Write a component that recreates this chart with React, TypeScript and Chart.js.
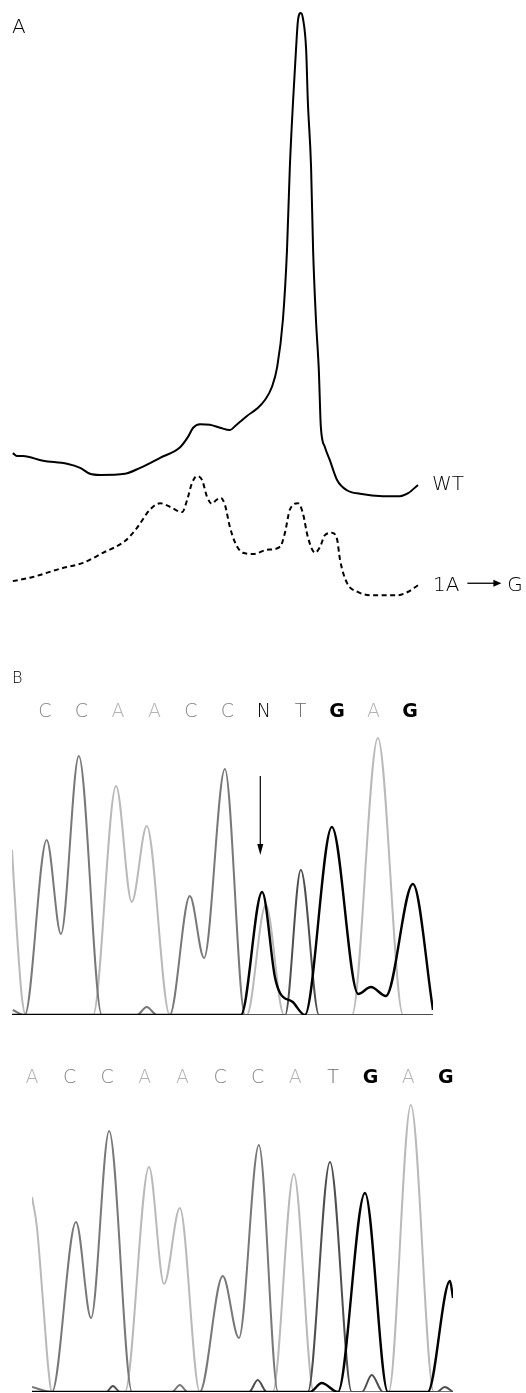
import React, { useEffect, useRef } from 'react';
import { Chart, registerables } from 'chart.js';

Chart.register(...registerables);

const FONT = "'DejaVu Sans', 'Noto Sans', sans-serif";

// ---------- Panel A: elution profiles (time in min, absorbance in %) ----------
const PANEL_A = 'A';
const SERIES_LABELS = ['WT', '1A → G'];

const WT_TIME = [0.02, 0.12, 0.27, 0.76, 1.35, 1.67, 1.91, 2.16, 2.77, 3.14, 3.63, 4.12, 4.31, 4.44, 4.61, 4.85, 5.10, 5.34, 5.47, 5.59, 5.76, 6.00, 6.20, 6.37, 6.50, 6.64, 6.74, 6.81, 6.89, 6.96, 7.01, 7.08, 7.13, 7.21, 7.25, 7.33, 7.38, 7.45, 7.52, 7.57, 7.67, 7.79, 7.97, 8.21, 8.53, 9.09, 9.51, 9.71, 9.95];
const WT_ABS = [24.9, 24.4, 24.4, 23.6, 23.1, 22.4, 21.4, 21.2, 21.4, 22.4, 24.1, 25.9, 27.6, 29.2, 29.8, 29.7, 29.2, 28.8, 29.5, 30.2, 31.2, 32.4, 33.9, 36.1, 39.5, 47.5, 59.3, 73.4, 84.7, 93.2, 98.3, 99.5, 98.6, 93.2, 84.7, 73.4, 59.3, 47.5, 39.0, 29.3, 25.9, 23.7, 20.3, 18.6, 18.0, 17.6, 17.6, 18.1, 19.5];

const MUT_TIME = [0.02, 0.51, 1.18, 1.74, 2.23, 2.77, 3.06, 3.38, 3.63, 3.87, 4.17, 4.29, 4.41, 4.53, 4.66, 4.78, 4.90, 5.00, 5.12, 5.22, 5.34, 5.47, 5.66, 5.91, 6.25, 6.57, 6.69, 6.81, 7.01, 7.13, 7.25, 7.43, 7.55, 7.67, 7.84, 7.97, 8.04, 8.21, 8.46, 8.85, 9.44, 9.71, 9.95];
const MUT_ABS = [3.2, 3.9, 5.3, 6.3, 8.0, 10.0, 12.2, 15.3, 16.4, 15.8, 14.9, 16.9, 19.8, 21.0, 20.3, 17.5, 16.3, 16.9, 17.3, 16.1, 12.4, 9.7, 8.0, 7.8, 8.5, 9.0, 11.4, 15.3, 16.4, 14.7, 10.7, 8.0, 9.0, 11.0, 11.4, 10.2, 6.8, 2.9, 1.4, 0.8, 0.8, 1.4, 2.5];

// ---------- Panel B: sequencing chromatograms (base position, RFU) ----------
const PANEL_B = 'B';
const SEQ_1 = ['C', 'C', 'A', 'A', 'C', 'C', 'N', 'T', 'G', 'A', 'G'];
const SEQ_2 = ['A', 'C', 'C', 'A', 'A', 'C', 'C', 'A', 'T', 'G', 'A', 'G'];
const ARROW_POS = 5.9;
const ARROW_RFU = [2390, 1600];

const B1_A_POS = [-0.90, -0.77, -0.63, -0.52, 1.32, 1.95, 2.38, 2.79, 3.42, 5.53, 6.05, 6.55, 8.41, 9.12, 9.81, 10.63];
const B1_A_RFU = [1650, 850, 180, 0, 0, 2290, 1130, 1890, 0, 0, 1100, 0, 0, 2770, 0, 0];
const B1_C_POS = [-0.88, -0.55, 0.05, 0.44, 0.93, 1.56, 2.52, 2.79, 3.07, 3.42, 3.97, 4.36, 4.93, 5.48, 10.63];
const B1_C_RFU = [50, 0, 1750, 810, 2590, 0, 0, 80, 0, 0, 1190, 570, 2460, 0, 0];
const B1_T_POS = [-0.90, 6.58, 7.01, 7.51, 10.63];
const B1_T_RFU = [0, 0, 1450, 0, 0];
const B1_G_POS = [-0.90, 5.37, 5.95, 6.30, 6.44, 6.79, 7.12, 7.86, 8.58, 8.93, 9.34, 10.08, 10.63];
const B1_G_RFU = [0, 0, 1230, 380, 220, 130, 0, 1880, 210, 280, 190, 1310, 50];

const B2_A_POS = [0, 0.13, 0.29, 0.43, 0.53, 2.47, 3.11, 3.51, 3.93, 4.46, 6.40, 6.96, 7.49, 9.48, 10.07, 10.68, 11.19];
const B2_A_RFU = [1950, 1650, 920, 250, 0, 0, 2250, 1080, 1840, 0, 0, 2180, 0, 0, 2870, 0, 0];
const B2_C_POS = [0, 0.53, 1.17, 1.57, 2.05, 2.66, 3.72, 3.93, 4.14, 4.46, 5.07, 5.50, 6.03, 6.54, 11.19];
const B2_C_RFU = [50, 0, 1700, 740, 2610, 0, 0, 70, 0, 0, 1160, 540, 2470, 0, 0];
const B2_T_POS = [0, 1.97, 2.15, 2.34, 5.77, 6.00, 6.24, 7.33, 7.92, 8.50, 8.77, 9.03, 9.33, 10.76, 10.97, 11.19];
const B2_T_RFU = [0, 0, 60, 0, 0, 120, 0, 0, 2300, 0, 0, 170, 0, 0, 50, 0];
const B2_G_POS = [0, 7.39, 7.70, 8.13, 8.85, 9.46, 10.52, 11.11, 11.19];
const B2_G_RFU = [0, 0, 90, 0, 1990, 0, 0, 1110, 940];

const LETTER_COLORS: Record<string, string> = { A: '#b3b3b3', C: '#858585', T: '#6a6a6a', G: '#000000', N: '#000000' };
const TRACE_COLORS: Record<string, string> = { A: '#b9b9b9', C: '#787878', T: '#4e4e4e', G: '#000000' };

const zip = (xs: number[], ys: number[]) => xs.map((x, i) => ({ x, y: ys[i] }));

const panelAPlugin = {
  id: 'panelALabels',
  afterDatasetsDraw(chart: any) {
    const { ctx } = chart;
    ctx.save();
    ctx.fillStyle = '#000';
    ctx.strokeStyle = '#000';
    ctx.textAlign = 'left';
    ctx.textBaseline = 'alphabetic';
    ctx.font = `300 20px ${FONT}`;
    ctx.fillText(PANEL_A, 12, 33);

    const wt = chart.getDatasetMeta(0).data;
    const wtEnd = wt[wt.length - 1];
    ctx.fillText(SERIES_LABELS[0], wtEnd.x + 14, wtEnd.y + 5);

    const mu = chart.getDatasetMeta(1).data;
    const muEnd = mu[mu.length - 1];
    const [from, to] = SERIES_LABELS[1].split('→').map((s) => s.trim());
    const x0 = muEnd.x + 15;
    const yb = muEnd.y + 6;
    ctx.fillText(from, x0, yb);
    const w = ctx.measureText(from).width;
    const ay = yb - 8;
    const a0 = x0 + w + 8;
    const a1 = a0 + 34;
    ctx.lineWidth = 1.3;
    ctx.beginPath();
    ctx.moveTo(a0, ay);
    ctx.lineTo(a1 - 6, ay);
    ctx.stroke();
    ctx.beginPath();
    ctx.moveTo(a1, ay);
    ctx.lineTo(a1 - 8, ay - 3.5);
    ctx.lineTo(a1 - 8, ay + 3.5);
    ctx.closePath();
    ctx.fill();
    ctx.fillText(to, a1 + 6, yb);
    ctx.restore();
  },
};

const panelBPlugin = {
  id: 'panelBLabels',
  afterDatasetsDraw(chart: any) {
    const { ctx } = chart;
    const xs = chart.scales.x;
    const ys = chart.scales.y;
    ctx.save();
    ctx.fillStyle = '#000';
    ctx.strokeStyle = '#000';
    ctx.textAlign = 'left';
    ctx.textBaseline = 'alphabetic';
    ctx.font = `300 16px ${FONT}`;
    ctx.fillText(PANEL_B, 12, 43);
    const ax = xs.getPixelForValue(ARROW_POS);
    const y1 = ys.getPixelForValue(ARROW_RFU[0]);
    const y2 = ys.getPixelForValue(ARROW_RFU[1]);
    ctx.lineWidth = 1.2;
    ctx.beginPath();
    ctx.moveTo(ax, y1);
    ctx.lineTo(ax, y2 - 8);
    ctx.stroke();
    ctx.beginPath();
    ctx.moveTo(ax, y2);
    ctx.lineTo(ax - 3, y2 - 11);
    ctx.lineTo(ax + 3, y2 - 11);
    ctx.closePath();
    ctx.fill();
    ctx.restore();
  },
};

function chromConfig(
  seq: string[],
  traces: { base: string; pos: number[]; rfu: number[] }[],
  xMin: number,
  xMax: number,
  yMax: number,
  padding: any,
  tickPad: number,
  plugins: any[]
): any {
  return {
    type: 'line',
    data: {
      datasets: traces.map((t) => ({
        label: t.base,
        data: zip(t.pos, t.rfu),
        borderColor: TRACE_COLORS[t.base],
        borderWidth: t.base === 'G' ? 2.4 : 2,
        pointRadius: 0,
        fill: false,
        cubicInterpolationMode: 'monotone',
      })),
    },
    options: {
      responsive: false,
      animation: false,
      events: [],
      layout: { padding, autoPadding: false },
      plugins: { legend: { display: false }, tooltip: { enabled: false } },
      scales: {
        x: {
          type: 'linear',
          position: 'top',
          min: xMin,
          max: xMax,
          grid: { display: false, drawTicks: false },
          border: { display: false },
          afterBuildTicks: (s: any) => {
            s.ticks = seq.map((_, i) => ({ value: i }));
          },
          afterFit: (s: any) => {
            s.height = 30;
            s.paddingLeft = 0;
            s.paddingRight = 0;
          },
          ticks: {
            autoSkip: false,
            maxRotation: 0,
            minRotation: 0,
            padding: tickPad,
            callback: (_v: any, i: number) => seq[i],
            color: (c: any) => LETTER_COLORS[seq[c.index] ?? 'C'],
            font: (c: any) => ({
              family: FONT,
              size: 19,
              weight: seq[c.index] === 'G' ? 'bold' : '200',
            }),
          },
        },
        y: { display: false, min: 0, max: yMax },
      },
    },
    plugins,
  };
}

export default function App() {
  const refA = useRef<HTMLCanvasElement>(null);
  const refB1 = useRef<HTMLCanvasElement>(null);
  const refB2 = useRef<HTMLCanvasElement>(null);

  useEffect(() => {
    document.body.style.margin = '0';
    const charts: Chart[] = [];

    charts.push(
      new Chart(refA.current as HTMLCanvasElement, {
        type: 'line',
        data: {
          datasets: [
            {
              label: SERIES_LABELS[0],
              data: zip(WT_TIME, WT_ABS),
              borderColor: '#000',
              borderWidth: 2,
              pointRadius: 0,
              fill: false,
              cubicInterpolationMode: 'monotone',
            },
            {
              label: SERIES_LABELS[1],
              data: zip(MUT_TIME, MUT_ABS),
              borderColor: '#000',
              borderWidth: 2,
              borderDash: [5, 3.5],
              pointRadius: 0,
              fill: false,
              cubicInterpolationMode: 'monotone',
            },
          ],
        },
        options: {
          responsive: false,
          animation: false,
          events: [],
          layout: { padding: { left: 12, right: 106, top: 10, bottom: 20 }, autoPadding: false },
          plugins: { legend: { display: false }, tooltip: { enabled: false } },
          scales: {
            x: { type: 'linear', display: false, min: 0, max: 10 },
            y: { display: false, min: 0, max: 100 },
          },
        } as any,
        plugins: [panelAPlugin],
      } as any)
    );

    charts.push(
      new Chart(
        refB1.current as HTMLCanvasElement,
        chromConfig(
          SEQ_1,
          [
            { base: 'G', pos: B1_G_POS, rfu: B1_G_RFU },
            { base: 'T', pos: B1_T_POS, rfu: B1_T_RFU },
            { base: 'C', pos: B1_C_POS, rfu: B1_C_RFU },
            { base: 'A', pos: B1_A_POS, rfu: B1_A_RFU },
          ],
          -0.9,
          10.63,
          2900,
          { left: 12, right: 93, top: 55, bottom: 15 },
          2,
          [panelBPlugin]
        )
      )
    );

    charts.push(
      new Chart(
        refB2.current as HTMLCanvasElement,
        chromConfig(
          SEQ_2,
          [
            { base: 'G', pos: B2_G_POS, rfu: B2_G_RFU },
            { base: 'T', pos: B2_T_POS, rfu: B2_T_RFU },
            { base: 'C', pos: B2_C_POS, rfu: B2_C_RFU },
            { base: 'A', pos: B2_A_POS, rfu: B2_A_RFU },
          ],
          0,
          11.19,
          3000,
          { left: 32, right: 73, top: 22, bottom: 1 },
          3,
          []
        )
      )
    );

    return () => charts.forEach((c) => c.destroy());
  }, []);

  return (
    <div style={{ position: 'relative', width: 526, height: 1393, background: '#fff', overflow: 'hidden' }}>
      <canvas ref={refA} width={526} height={620} style={{ position: 'absolute', left: 0, top: 0, width: 526, height: 620 }} />
      <canvas ref={refB1} width={526} height={390} style={{ position: 'absolute', left: 0, top: 640, width: 526, height: 390 }} />
      <canvas ref={refB2} width={526} height={353} style={{ position: 'absolute', left: 0, top: 1040, width: 526, height: 353 }} />
    </div>
  );
}
